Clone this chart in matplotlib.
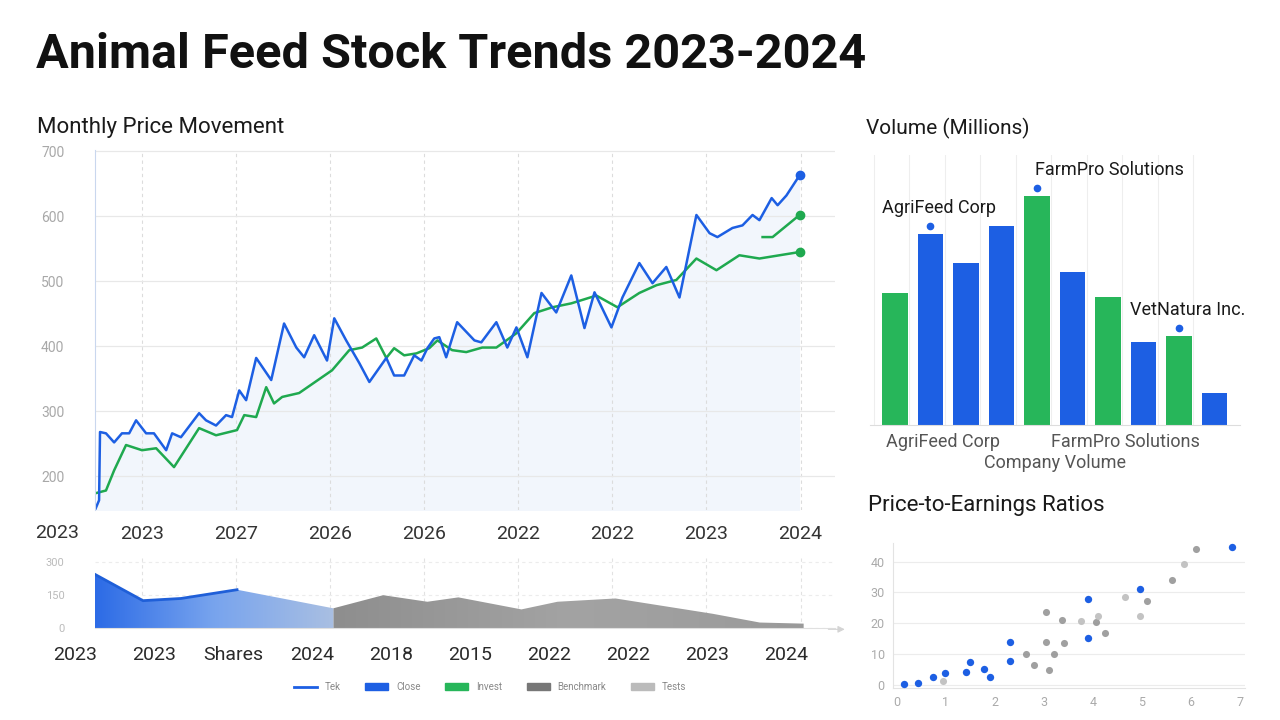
import matplotlib
matplotlib.use("Agg")
import matplotlib.pyplot as plt
import numpy as np
from matplotlib.colors import LinearSegmentedColormap
from matplotlib.lines import Line2D
from matplotlib.patches import Patch

plt.rcParams["font.family"] = ["Roboto", "DejaVu Sans"]

BLUE = "#1d5fe3"
GREEN = "#1fa94f"
BAR_GREEN = "#27b65a"
GRAY = "#8f8f8f"
LIGHT_GRAY = "#bdbdbd"

# ---- monthly price movement (months since Jan 2023, price) ----
blue_months = [0, 0.13, 0.16, 0.35, 0.61, 0.86, 1.09, 1.31, 1.63, 1.88, 2.27, 2.46, 2.74, 3.32,
               3.54, 3.86, 4.18, 4.37, 4.60, 4.82, 5.14, 5.62, 6.03, 6.42, 6.67, 6.99, 7.40, 7.63,
               8.01, 8.43, 8.75, 9.29, 9.54, 9.86, 10.18, 10.41, 10.60, 10.82, 10.98, 11.20, 11.55,
               12.10, 12.32, 12.80, 13.15, 13.44, 13.79, 14.24, 14.71, 15.19, 15.61, 15.93, 16.47,
               16.82, 17.36, 17.78, 18.22, 18.64, 19.18, 19.60, 19.85, 20.33, 20.65, 20.97, 21.19,
               21.58, 21.77, 22.05, 22.47]
blue_price = [148, 163, 268, 266, 252, 266, 266, 286, 266, 266, 240, 266, 260, 297, 286, 278, 294,
              291, 332, 317, 382, 348, 435, 398, 383, 417, 378, 443, 409, 374, 345, 382, 355, 355,
              386, 378, 397, 412, 414, 383, 437, 409, 406, 437, 398, 429, 383, 482, 452, 509, 428,
              483, 429, 475, 528, 497, 522, 475, 602, 574, 568, 582, 586, 602, 594, 628, 617, 632, 663]
green_months = [0.03, 0.35, 0.61, 0.99, 1.50, 1.95, 2.52, 3.32, 3.86, 4.53, 4.76, 5.14, 5.46, 5.71,
                5.97, 6.51, 7.56, 8.11, 8.52, 8.97, 9.29, 9.54, 9.86, 10.25, 10.66, 10.92, 11.39,
                11.84, 12.35, 12.80, 13.44, 14.01, 14.59, 15.19, 15.99, 16.66, 17.36, 17.91, 18.54,
                19.18, 19.82, 20.55, 21.19, 21.83, 22.47]
green_price = [174, 178, 209, 248, 240, 243, 214, 274, 263, 271, 294, 291, 337, 312, 322, 328, 363,
               394, 398, 412, 382, 397, 386, 389, 397, 409, 394, 391, 398, 398, 420, 451, 460, 466,
               478, 460, 482, 494, 502, 535, 517, 540, 535, 540, 545]
green2_months = [21.29, 21.61, 22.47]
green2_price = [568, 568, 602]

price_yticks = [200, 300, 400, 500, 600, 700]
top_xticks = [1.5, 4.5, 7.5, 10.5, 13.5, 16.5, 19.5, 22.5]
top_xlabels = ["2023", "2023", "2027", "2026", "2026", "2022", "2022", "2023", "2024"]

# ---- traded volume area ----
area_months = [0, 1.53, 2.74, 4.53, 7.6, 9.19, 10.6, 11.59, 13.6, 14.75, 16.6, 19.7, 21.2, 22.6]
area_volume = [245, 125, 135, 175, 90, 150, 120, 140, 85, 120, 135, 65, 25, 20]
area_split = 7.6
bottom_xlabels = ["2023", "2023", "Shares", "2024", "2018", "2015", "2022", "2022", "2023", "2024"]

# ---- volume bars ----
bar_volume = [13.2, 19.1, 16.2, 19.9, 22.9, 15.3, 12.8, 8.3, 8.9, 3.2]
bar_colors = [BAR_GREEN, BLUE, BLUE, BLUE, BAR_GREEN, BLUE, BAR_GREEN, BLUE, BAR_GREEN, BLUE]
bar_callouts = [(1, "AgriFeed Corp"), (4, "FarmPro Solutions"), (8, "VetNatura Inc.")]

# ---- P/E scatter ----
pe_blue_x = [0.15, 0.43, 0.74, 0.99, 1.41, 1.50, 1.78, 1.90, 2.31, 2.31, 3.90, 3.89, 4.95, 6.83]
pe_blue_y = [0.3, 0.5, 2.7, 4.0, 4.2, 7.5, 5.1, 2.5, 14.0, 7.8, 28.0, 15.2, 31.2, 44.7]
pe_gray_x = [3.04, 3.37, 4.06, 4.24, 3.05, 3.41, 3.21, 2.80, 3.10, 5.10, 5.61, 6.10, 2.63]
pe_gray_y = [23.7, 21.2, 20.3, 16.8, 13.9, 13.6, 10.1, 6.4, 4.9, 27.1, 34.0, 44.0, 10.0]
pe_light_x = [0.94, 3.75, 4.10, 4.65, 4.96, 5.86]
pe_light_y = [1.3, 20.6, 22.2, 28.6, 22.2, 39.1]

fig = plt.figure(figsize=(12.8, 7.2), dpi=100)
fig.text(36 / 1280, 1 - 55 / 720, "Animal Feed Stock Trends 2023-2024", fontsize=35,
         fontweight="bold", va="center", ha="left", color="#111111")
fig.text(37 / 1280, 1 - 128 / 720, "Monthly Price Movement", fontsize=16, va="center", color="#1a1a1a")
fig.text(866 / 1280, 1 - 128 / 720, "Volume (Millions)", fontsize=15, va="center", color="#1a1a1a")
fig.text(868 / 1280, 1 - 505 / 720, "Price-to-Earnings Ratios", fontsize=16, va="center", color="#1a1a1a")

# main line chart
ax = fig.add_axes([95 / 1280, 1 - 510 / 720, 740 / 1280, 360 / 720])
ax.fill_between(blue_months, blue_price, 140, color="#e3ecf9", alpha=0.45, lw=0)
ax.plot(green_months, green_price, color=GREEN, lw=1.8)
ax.plot(green2_months, green2_price, color=GREEN, lw=1.8)
ax.plot(blue_months, blue_price, color=BLUE, lw=1.8)
for xs, ys, c in [(blue_months, blue_price, BLUE), (green_months, green_price, GREEN),
                  (green2_months, green2_price, GREEN)]:
    ax.plot(xs[-1], ys[-1], "o", color=c, ms=6)
ax.set_xlim(0, 23.6)
ax.set_ylim(148, 702)
ax.set_yticks(price_yticks)
ax.set_yticklabels([str(v) for v in price_yticks])
ax.set_xticks(top_xticks)
ax.set_xticklabels(top_xlabels[1:])
ax.text(-1.2, -0.064, top_xlabels[0], transform=ax.get_xaxis_transform(), ha="center", va="center",
        fontsize=14, color="#333333")
ax.tick_params(axis="x", length=0, pad=11, labelsize=14, labelcolor="#333333")
ax.tick_params(axis="y", length=0, pad=22, labelsize=10, labelcolor="#a8a8a8")
ax.grid(axis="y", color="#e8e8e8", lw=0.9)
ax.grid(axis="x", color="#dcdcdc", lw=0.8, ls=(0, (3, 3)))
for s in ["top", "right", "bottom"]:
    ax.spines[s].set_visible(False)
ax.spines["left"].set_color("#c9d7ee")

# bottom area chart
ax2 = fig.add_axes([95 / 1280, 1 - 628 / 720, 740 / 1280, 70 / 720])
ax2.set_axisbelow(True)
am = np.array(area_months)
av = np.array(area_volume)
split = np.searchsorted(am, area_split) + 1
gray_cmap = LinearSegmentedColormap.from_list("gry", ["#8e8e8e", "#a3a3a3", "#9a9a9a"])
gpoly = ax2.fill_between(am[split - 1:], av[split - 1:], 0, color="none", lw=0)
gimg = ax2.imshow(np.linspace(0, 1, 256).reshape(1, -1), cmap=gray_cmap, aspect="auto",
                  extent=[area_split, am[-1], 0, max(area_volume)], zorder=1)
gimg.set_clip_path(gpoly.get_paths()[0], transform=ax2.transData)
poly = ax2.fill_between(am[:split], av[:split], 0, color="none", lw=0)
cmap = LinearSegmentedColormap.from_list("blu", ["#2c6be6", "#78a4ee", "#a9bfe2"])
img = ax2.imshow(np.linspace(0, 1, 256).reshape(1, -1), cmap=cmap, aspect="auto",
                 extent=[0, area_split, 0, max(area_volume)], zorder=1)
img.set_clip_path(poly.get_paths()[0], transform=ax2.transData)
ax2.plot(am[:4], av[:4], color="#1f5fd8", lw=2, zorder=2)
ax2.set_xlim(0, 23.6)
ax2.set_ylim(0, 320)
ax2.set_yticks([0, 150, 300])
ax2.set_xticks(top_xticks)
ax2.set_xticklabels([])
for x, lab in zip(np.linspace(-0.64, 22.05, len(bottom_xlabels)), bottom_xlabels):
    ax2.text(x, -0.38, lab, transform=ax2.get_xaxis_transform(), ha="center", va="center",
             fontsize=14, color="#2a2a2a")
ax2.tick_params(length=0, labelsize=8, labelcolor="#bbbbbb", pad=22)
ax2.grid(axis="y", color="#ececec", lw=0.8, ls=(0, (3, 3)))
ax2.grid(axis="x", color="#e2e2e2", lw=0.8, ls=(0, (3, 3)))
for s in ["top", "right", "left"]:
    ax2.spines[s].set_visible(False)
ax2.spines["bottom"].set_color("#e0e0e0")
ax2.annotate("", xy=(24.0, -6), xytext=(23.3, -6), xycoords="data", annotation_clip=False,
             arrowprops=dict(arrowstyle="-|>", color="#d4d4d4", lw=0.8))

handles = [Line2D([0], [0], color=BLUE, lw=2), Patch(color=BLUE), Patch(color=BAR_GREEN),
           Patch(color="#777777"), Patch(color="#bbbbbb")]
fig.legend(handles, ["Tek", "Close", "Invest", "Benchmark", "Tests"], loc="center",
           bbox_to_anchor=(490 / 1280, 1 - 687 / 720), ncol=5, frameon=False, fontsize=7,
           labelcolor="#888888", handlelength=2.4, columnspacing=2.5)

# volume bars
ax3 = fig.add_axes([870 / 1280, 1 - 425 / 720, 370 / 1280, 270 / 720])
idx = np.arange(len(bar_volume))
ax3.bar(idx, bar_volume, width=0.72, color=bar_colors, zorder=2)
for i, name in bar_callouts:
    ax3.plot(i, bar_volume[i] + 0.8, "o", color=BLUE, ms=4.5, zorder=3)
    ax3.annotate(name, (i, bar_volume[i]), xytext=(6 if i != 4 else 52, 12), textcoords="offset points",
                 ha="center", va="bottom", fontsize=13, color="#1a1a1a")
ax3.set_xlim(-0.7, 9.72)
ax3.set_ylim(0, 27)
ax3.set_xticks([1.35, 6.5])
ax3.set_xticklabels(["AgriFeed Corp", "FarmPro Solutions"])
ax3.set_xticks(idx - 0.6, minor=True)
ax3.set_yticks([])
ax3.grid(axis="x", which="minor", color="#eeeeee", lw=0.8)
ax3.tick_params(axis="x", which="both", length=0, labelsize=13, labelcolor="#555555", pad=6)
ax3.set_xlabel("Company Volume", fontsize=13, color="#555555", labelpad=2)
for s in ["top", "right", "left"]:
    ax3.spines[s].set_visible(False)
ax3.spines["bottom"].set_color("#dddddd")

# P/E scatter
ax4 = fig.add_axes([893 / 1280, 1 - 688 / 720, 352 / 1280, 145 / 720])
ax4.scatter(pe_gray_x, pe_gray_y, s=26, color=GRAY, alpha=0.85, lw=0, zorder=2)
ax4.scatter(pe_light_x, pe_light_y, s=26, color=LIGHT_GRAY, alpha=0.9, lw=0, zorder=2)
ax4.scatter(pe_blue_x, pe_blue_y, s=28, color=BLUE, lw=0, zorder=3)
ax4.set_xlim(-0.08, 7.1)
ax4.set_ylim(-1, 46)
ax4.set_xticks(range(8))
ax4.set_yticks([0, 10, 20, 30, 40])
ax4.tick_params(length=0, labelsize=9, labelcolor="#aaaaaa", pad=6)
ax4.grid(axis="y", color="#ececec", lw=0.8)
for s in ["top", "right"]:
    ax4.spines[s].set_visible(False)
ax4.spines["left"].set_color("#e3e3e3")
ax4.spines["bottom"].set_color("#e3e3e3")

fig.savefig("out.png", dpi=100)
